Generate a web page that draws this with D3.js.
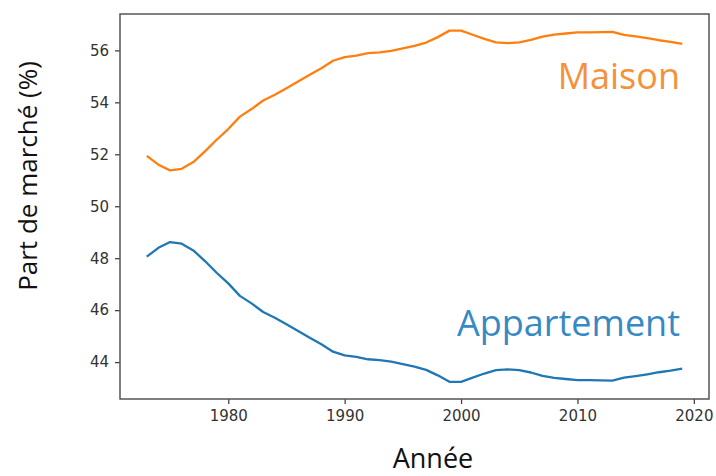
<!DOCTYPE html>
<html>
<head>
<meta charset="utf-8">
<script src="https://cdn.jsdelivr.net/npm/d3@7"></script>
<style>
  html, body { margin: 0; padding: 0; background: #fff; }
  svg { display: block; }
  .tick text { font-family: "DejaVu Sans", sans-serif; font-size: 15px; fill: #333; }
</style>
</head>
<body>
<svg id="chart" width="716" height="476"></svg>
<script>
// Market share (%) of new housing by type, 1973–2019
const years = d3.range(1973, 2020);
const maison = [
  51.94, 51.60, 51.38, 51.44, 51.70, 52.11, 52.56, 52.97, 53.45, 53.74,
  54.07, 54.29, 54.54, 54.80, 55.06, 55.31, 55.60, 55.74, 55.80, 55.89,
  55.92, 55.98, 56.08, 56.17, 56.30, 56.51, 56.76, 56.76, 56.60, 56.44,
  56.31, 56.28, 56.31, 56.40, 56.53, 56.61, 56.65, 56.69, 56.69, 56.70,
  56.71, 56.60, 56.54, 56.47, 56.39, 56.33, 56.25
];
const appartement = [
  48.06, 48.40, 48.62, 48.56, 48.30, 47.89, 47.44, 47.03, 46.55, 46.26,
  45.93, 45.71, 45.46, 45.20, 44.94, 44.69, 44.40, 44.26, 44.20, 44.11,
  44.08, 44.02, 43.92, 43.83, 43.70, 43.49, 43.24, 43.24, 43.40, 43.56,
  43.69, 43.72, 43.69, 43.60, 43.47, 43.39, 43.35, 43.31, 43.31, 43.30,
  43.29, 43.40, 43.46, 43.53, 43.61, 43.67, 43.75
];
const xTicks = [1980, 1990, 2000, 2010, 2020];
const yTicks = [44, 46, 48, 50, 52, 54, 56];

const plot = { left: 120, right: 709, top: 14, bottom: 399 };

const svg = d3.select("#chart");

const x = d3.scaleLinear().domain([1970.7, 2021.3]).range([plot.left, plot.right]);
const y = d3.scaleLinear().domain([42.58, 57.40]).range([plot.bottom, plot.top]);

// axes
const xAxis = svg.append("g")
  .attr("transform", `translate(0,${plot.bottom})`)
  .call(d3.axisBottom(x).tickValues(xTicks).tickFormat(d3.format("d")).tickSize(5).tickPadding(6));
const yAxis = svg.append("g")
  .attr("transform", `translate(${plot.left},0)`)
  .call(d3.axisLeft(y).tickValues(yTicks).tickFormat(d3.format("d")).tickSize(5).tickPadding(6));
[xAxis, yAxis].forEach(g => {
  g.select(".domain").remove();
  g.selectAll(".tick line").attr("stroke", "#444").attr("stroke-width", 1.3);
});

// frame
svg.append("rect")
  .attr("x", plot.left).attr("y", plot.top)
  .attr("width", plot.right - plot.left).attr("height", plot.bottom - plot.top)
  .attr("fill", "none").attr("stroke", "#555").attr("stroke-width", 1.5);

// series
const line = vals => d3.line().x((d, i) => x(years[i])).y(d => y(d))(vals);
svg.append("path").attr("d", line(maison))
  .attr("fill", "none").attr("stroke", "#ff7f0e").attr("stroke-width", 2.3)
  .attr("stroke-linejoin", "round");
svg.append("path").attr("d", line(appartement))
  .attr("fill", "none").attr("stroke", "#1f77b4").attr("stroke-width", 2.3)
  .attr("stroke-linejoin", "round");

// series labels
const lab = { "font-family": "'Open Sans', sans-serif", "font-size": "36px", "text-anchor": "end" };
const tMaison = svg.append("text").attr("x", 680).attr("y", 89).text("Maison").attr("fill", "#f5913a");
const tApp = svg.append("text").attr("x", 680).attr("y", 336).text("Appartement").attr("fill", "#3789c4");
[tMaison, tApp].forEach(t => Object.entries(lab).forEach(([k, v]) => t.style(k, v)));

// axis titles
svg.append("text")
  .attr("x", 433).attr("y", 468)
  .attr("text-anchor", "middle")
  .style("font-family", "'Open Sans', sans-serif").style("font-size", "27px").style("fill", "#111")
  .text("Année");
svg.append("text")
  .attr("transform", "translate(37,176) rotate(-90)")
  .attr("text-anchor", "middle")
  .style("font-family", "'Open Sans', sans-serif").style("font-size", "26px").style("fill", "#111")
  .text("Part de marché (%)");
</script>
</body>
</html>
